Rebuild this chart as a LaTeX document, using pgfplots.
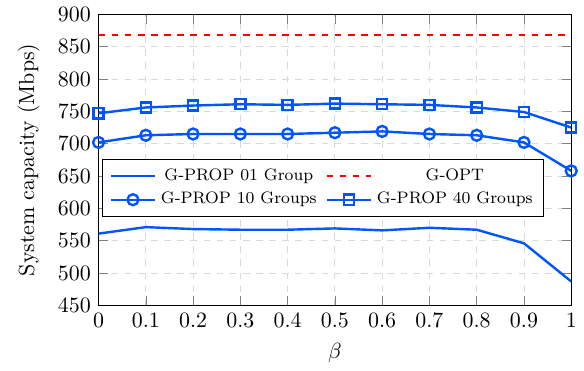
\documentclass[border=0pt]{standalone}
\usepackage{pgfplots}
\pgfplotsset{compat=1.18}
\definecolor{myblue}{RGB}{0,85,255}
\begin{document}
\begin{tikzpicture}
\begin{axis}[
  scale only axis,
  width=216pt, height=133pt,
  xmin=0, xmax=1, ymin=450, ymax=900,
  xtick={0,0.1,0.2,0.3,0.4,0.5,0.6,0.7,0.8,0.9,1},
  xticklabels={0,0.1,0.2,0.3,0.4,0.5,0.6,0.7,0.8,0.9,1},
  ytick={450,500,550,600,650,700,750,800,850,900},
  grid=major,
  major grid style={dashed, gray!30},
  xlabel={$\beta$},
  ylabel={System capacity (Mbps)},
  ylabel style={xshift=0pt, yshift=1.5pt},
  legend columns=2,
  legend cell align=center,
  legend image code/.code={\draw[mark repeat=2,mark phase=2,#1] plot coordinates {(0cm,0cm) (0.36cm,0cm) (0.72cm,0cm)};},
  legend style={at={(0.008,0.502)}, anchor=north west, font=\fontsize{7.6}{9}\selectfont, draw=black, /tikz/every even column/.append style={column sep=2pt}},
]
\addplot[myblue, line width=1.1pt] coordinates {
(0,561) (0.1,571) (0.2,568) (0.3,567) (0.4,567) (0.5,569) (0.6,566) (0.7,570) (0.8,567) (0.9,546) (1,487)};
\addlegendentry{G-PROP 01 Group}
\addplot[red, dashed, line width=1.1pt] coordinates {(0,868) (1,868)};
\addlegendentry{G-OPT}
\addplot[myblue, line width=1.1pt, mark=o, mark size=2.5pt] coordinates {
(0,702) (0.1,713) (0.2,715) (0.3,715) (0.4,715) (0.5,717) (0.6,719) (0.7,715) (0.8,713) (0.9,702) (1,658)};
\addlegendentry{G-PROP 10 Groups}
\addplot[myblue, line width=1.1pt, mark=square, mark size=2.3pt] coordinates {
(0,747) (0.1,756) (0.2,759) (0.3,761) (0.4,760) (0.5,762) (0.6,761) (0.7,760) (0.8,756) (0.9,749) (1,725)};
\addlegendentry{G-PROP 40 Groups}
\end{axis}
\path (current axis.outer west) ++(-4.8pt,0);
\end{tikzpicture}
\end{document}
